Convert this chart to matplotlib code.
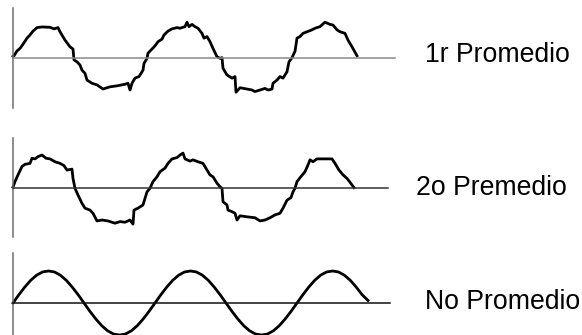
import numpy as np
import matplotlib
matplotlib.use("Agg")
import matplotlib.pyplot as plt

# waveform traces (t = sample position, y = amplitude)
t_avg1 = [0, 1, 4, 7, 10, 14, 17, 20, 24, 29, 37, 41, 45, 47, 52, 57, 60, 61, 64, 67,
          69, 72, 74, 79, 84, 90, 97, 104, 112, 115, 117, 119, 122, 126, 128, 130, 131,
          134, 135, 139, 142, 145, 149, 151, 155, 159, 164, 167, 172, 174, 176, 179, 182,
          185, 189, 191, 194, 197, 200, 204, 207, 209, 210, 214, 219, 222, 223, 227, 234,
          239, 242, 247, 252, 255, 259, 260, 264, 267, 270, 274, 276, 279, 282, 284, 287,
          290, 294, 299, 302, 307, 312, 317, 320, 324, 327, 332, 335, 339, 344]
y_avg1 = [0.05, 0.07, 0.22, 0.30, 0.43, 0.62, 0.72, 0.84, 0.95, 0.97, 0.96, 0.91, 0.95,
          0.82, 0.56, 0.35, 0.28, -0.06, -0.12, -0.22, -0.38, -0.48, -0.69, -0.79, -0.84,
          -0.97, -0.90, -0.87, -0.82, -0.79, -1.00, -0.79, -0.63, -0.58, -0.48, -0.38,
          -0.17, -0.01, 0.15, 0.28, 0.38, 0.51, 0.59, 0.72, 0.84, 0.91, 0.95, 0.93, 0.98,
          1.12, 0.98, 1.05, 0.98, 0.93, 0.77, 0.62, 0.67, 0.51, 0.30, 0.04, -0.01, 0.01,
          -0.32, -0.53, -0.63, -0.58, -1.07, -0.93, -0.97, -1.00, -1.05, -1.00, -0.95,
          -1.00, -0.97, -0.79, -0.69, -0.58, -0.63, -0.43, -0.12, 0.01, 0.21, 0.62, 0.67,
          0.77, 0.82, 0.88, 0.93, 0.98, 1.12, 1.05, 1.03, 0.88, 0.82, 0.77, 0.56, 0.35, 0.07]

t_avg2 = [0, 2, 5, 9, 12, 17, 19, 22, 25, 29, 33, 37, 42, 47, 51, 54, 59, 60, 62, 65, 69,
          72, 77, 80, 84, 89, 95, 102, 107, 112, 117, 120, 121, 125, 130, 134, 137, 140,
          144, 147, 152, 155, 159, 164, 167, 170, 172, 177, 180, 185, 190, 194, 197, 200,
          204, 207, 209, 210, 214, 215, 219, 222, 224, 227, 234, 242, 247, 252, 257, 262,
          267, 270, 274, 278, 280, 282, 284, 287, 292, 295, 297, 300, 304, 310, 319, 322,
          326, 330, 334, 337, 341]
y_avg2 = [0.03, 0.20, 0.41, 0.67, 0.74, 0.77, 0.93, 0.91, 0.98, 1.03, 0.93, 0.91, 0.82,
          0.77, 0.70, 0.56, 0.59, 0.30, -0.01, -0.22, -0.48, -0.63, -0.69, -0.79, -1.03,
          -1.00, -1.03, -1.10, -1.05, -1.07, -1.00, -1.13, -0.69, -0.63, -0.53, -0.12,
          -0.01, 0.20, 0.35, 0.51, 0.62, 0.77, 0.91, 0.95, 1.03, 1.09, 0.91, 0.84, 0.88,
          0.82, 0.77, 0.56, 0.41, 0.35, 0.15, 0.04, -0.01, -0.43, -0.53, -0.69, -0.74,
          -0.79, -1.00, -0.87, -0.90, -0.93, -1.03, -1.00, -0.93, -0.84, -0.79, -0.63,
          -0.38, -0.30, -0.12, -0.01, 0.20, 0.32, 0.51, 0.72, 0.88, 0.82, 0.91, 0.91, 0.91,
          0.77, 0.56, 0.41, 0.30, 0.18, 0.01]

# clean wave, one value every 1/24 of a period (2.5 periods)
y_clean = [0, .26, .5, .71, .87, .97, 1, .97, .87, .71, .5, .26,
           0, -.26, -.5, -.71, -.87, -.97, -1, -.97, -.87, -.71, -.5, -.26,
           0, .26, .5, .71, .87, .97, 1, .97, .87, .71, .5, .26,
           0, -.26, -.5, -.71, -.87, -.97, -1, -.97, -.87, -.71, -.5, -.26,
           0, .26, .5, .71, .87, .97, 1, .97, .87, .71, .5, .26, 0.08]
t_clean = np.linspace(0, 355, len(y_clean))

labels = ['1r Promedio', '2o Premedio', 'No Promedio']

W, H = 582, 335
fig = plt.figure(figsize=(W / 100, H / 100), dpi=100)

# panel boxes in pixels: left, right, top, baseline, bottom
boxes = [(13, 395, 8, 58, 108), (13, 388, 138, 188, 237), (13, 390, 253, 303, 335)]
hcolors = ['#8a8a8a', '#333333', '#111111']
traces = [(t_avg1, y_avg1), (t_avg2, y_avg2), (t_clean, y_clean)]
label_pos = [(425, 55), (416, 188), (425, 302)]
unit = 32.0  # pixels per amplitude unit

for (l, r, top, base, bot), hc, (t, y), lab, (lx, ly) in zip(boxes, hcolors, traces, labels, label_pos):
    ax = fig.add_axes([l / W, 1 - bot / H, (r - l) / W, (bot - top) / H])
    ax.plot(t, y, color='black', lw=2.0, solid_joinstyle='round', clip_on=False)
    ax.set_xlim(0, r - l)
    ax.set_ylim(-(bot - base) / unit, (base - top) / unit)
    ax.spines['top'].set_visible(False)
    ax.spines['right'].set_visible(False)
    ax.spines['bottom'].set_position(('data', 0))
    ax.spines['bottom'].set_color(hc)
    ax.spines['left'].set_color('#6e6e6e')
    ax.spines['bottom'].set_linewidth(1.1)
    ax.spines['left'].set_linewidth(1.1)
    ax.set_xticks([])
    ax.set_yticks([])
    ax.patch.set_alpha(0)
    fig.text(lx / W, 1 - ly / H, lab, fontsize=19.2, family='Liberation Sans',
             ha='left', va='center', color='black')

fig.savefig('out.png', dpi=100)
